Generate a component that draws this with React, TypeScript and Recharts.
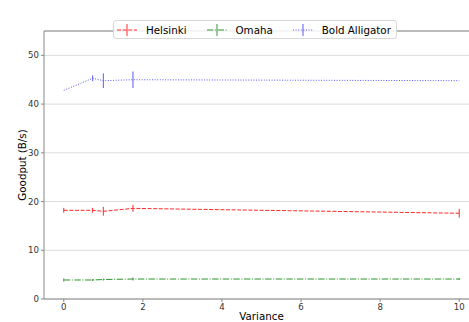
import React from "react";
import {
  LineChart,
  Line,
  XAxis,
  YAxis,
  CartesianGrid,
  ErrorBar,
  ReferenceLine,
  Legend,
} from "recharts";

const variance = [0, 0.73, 1, 1.75, 10];
const helsinki = [18.2, 18.2, 18.0, 18.6, 17.6];
const helsinkiErr = [0.5, 0.5, 0.9, 0.7, 0.9];
const omaha = [3.9, 3.9, 4.0, 4.1, 4.1];
const omahaErr = [0.3, 0.2, 0.2, 0.3, 0.2];
const alligator = [42.8, 45.3, 44.8, 45.0, 44.8];
const alligatorErr = [0, 0.6, 1.5, 1.7, 0];
const xTicks = [0, 2, 4, 6, 8, 10];
const yTicks = [0, 10, 20, 30, 40, 50];

const series = [
  { key: "h", name: "Helsinki", color: "#ff2a2a", dash: "4 1.6" },
  { key: "o", name: "Omaha", color: "#2e962e", dash: "6.4 1.6 1 1.6" },
  { key: "a", name: "Bold Alligator", color: "#5858ff", dash: "1 1.6" },
];

const data = variance.map((x, i) => ({
  x,
  h: helsinki[i],
  hErr: helsinkiErr[i],
  o: omaha[i],
  oErr: omahaErr[i],
  a: alligator[i],
  aErr: alligatorErr[i],
}));

const font = "'DejaVu Sans', sans-serif";

function LegendBox() {
  return (
    <div
      style={{
        display: "flex",
        alignItems: "center",
        boxSizing: "border-box",
        width: 284,
        height: 19,
        border: "1px solid #d8d8d8",
        borderRadius: 3,
        background: "rgba(255,255,255,0.85)",
        paddingLeft: 3,
        fontFamily: font,
        fontSize: 10.3,
        color: "#000",
        whiteSpace: "nowrap",
      }}
    >
      {series.map((s, i) => (
        <div
          key={s.key}
          style={{ display: "flex", alignItems: "center", marginRight: i < 2 ? 20 : 0 }}
        >
          <svg width={20} height={14} style={{ marginRight: 9 }}>
            <line
              x1={0}
              x2={20}
              y1={7}
              y2={7}
              stroke={s.color}
              strokeDasharray={s.dash}
            />
            <line x1={10} x2={10} y1={1} y2={13} stroke={s.color} />
          </svg>
          <span>{s.name}</span>
        </div>
      ))}
    </div>
  );
}

export default function App() {
  return (
    <div
      style={{
        position: "fixed",
        left: 0,
        top: 0,
        width: 469,
        height: 322,
        overflow: "hidden",
        background: "#fff",
      }}
    >
      <LineChart
        width={490}
        height={322}
        data={data}
        margin={{ top: 12, right: 11, bottom: 0, left: 0 }}
      >
        <CartesianGrid vertical={false} stroke="#dcdcdc" />
        <ReferenceLine y={55} stroke="#888" />
        <XAxis
          dataKey="x"
          type="number"
          domain={[-0.5, 10.5]}
          ticks={xTicks}
          height={23}
          stroke="#888"
          tick={{ fill: "#333", fontSize: 8.6, fontFamily: font }}
          tickSize={3}
          label={{
            value: "Variance",
            position: "insideBottom",
            offset: 2,
            fill: "#000",
            fontSize: 10.3,
            fontFamily: font,
          }}
        />
        <YAxis
          type="number"
          domain={[0, 55]}
          ticks={yTicks}
          width={44}
          stroke="#888"
          tick={{ fill: "#333", fontSize: 8.6, fontFamily: font }}
          tickSize={3}
          label={{
            value: "Goodput (B/s)",
            angle: -90,
            position: "insideLeft",
            offset: 22,
            style: { textAnchor: "middle" },
            fill: "#000",
            fontSize: 10.3,
            fontFamily: font,
          }}
        />
        <Legend
          verticalAlign="top"
          content={() => <LegendBox />}
          wrapperStyle={{ top: 20, left: 113, width: "auto" }}
        />
        {series.map((s) => (
          <Line
            key={s.key}
            dataKey={s.key}
            name={s.name}
            type="linear"
            stroke={s.color}
            strokeWidth={1}
            strokeDasharray={s.dash}
            dot={false}
            activeDot={false}
            isAnimationActive={false}
          >
            <ErrorBar
              dataKey={s.key + "Err"}
              direction="y"
              width={0}
              stroke={s.color}
              strokeWidth={1}
            />
          </Line>
        ))}
      </LineChart>
    </div>
  );
}
